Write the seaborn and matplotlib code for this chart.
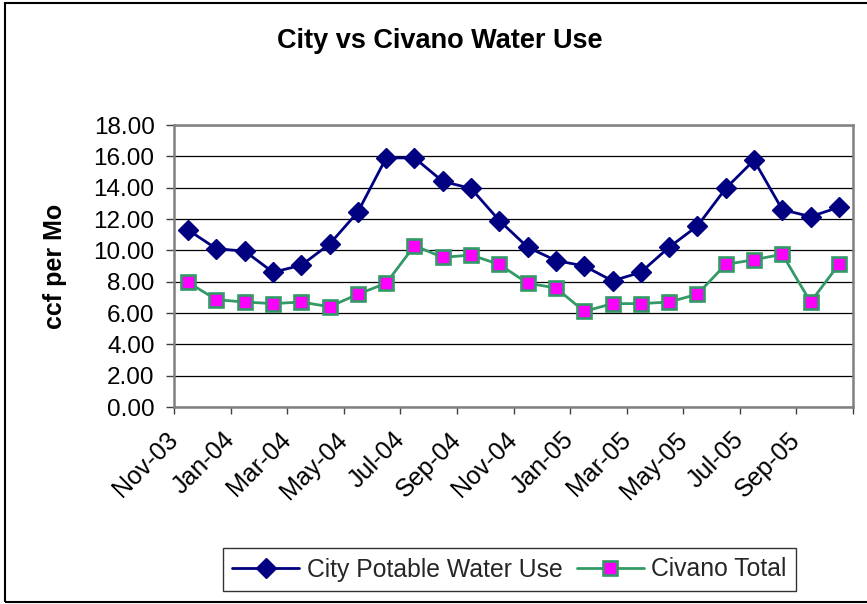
import matplotlib
matplotlib.use("Agg")
import numpy as np
import pandas as pd
import seaborn as sns
import matplotlib.pyplot as plt
from matplotlib.transforms import ScaledTranslation
from matplotlib.patches import Rectangle
from matplotlib.ticker import FixedLocator, FixedFormatter, NullFormatter, FuncFormatter

months = ["Nov-03", "Dec-03", "Jan-04", "Feb-04", "Mar-04", "Apr-04", "May-04", "Jun-04",
          "Jul-04", "Aug-04", "Sep-04", "Oct-04", "Nov-04", "Dec-04", "Jan-05", "Feb-05",
          "Mar-05", "Apr-05", "May-05", "Jun-05", "Jul-05", "Aug-05", "Sep-05", "Oct-05"]
city = [11.3, 10.1, 9.95, 8.6, 9.05, 10.4, 12.45, 15.9, 15.9, 14.4, 13.95, 11.9,
        10.2, 9.35, 9.0, 8.05, 8.6, 10.2, 11.55, 13.95, 15.75, 12.6, 12.15, 12.75]
civano = [7.95, 6.85, 6.7, 6.6, 6.7, 6.4, 7.2, 7.9, 10.3, 9.55, 9.7, 9.1,
          7.9, 7.6, 6.1, 6.6, 6.6, 6.7, 7.2, 9.1, 9.4, 9.75, 6.7, 9.1]
tick_labels = months[::2]
yticks = [0, 2, 4, 6, 8, 10, 12, 14, 16, 18]

sns.set_theme(style="white")
plt.rcParams["font.family"] = ["Liberation Sans", "DejaVu Sans"]

W, H = 867, 604
fig = plt.figure(figsize=(W / 100, H / 100), dpi=100)
fig.patch.set_facecolor("white")
ax = fig.add_axes([174 / W, (H - 407) / H, (853 - 174) / W, (407 - 125) / H])

df = pd.DataFrame({"idx": np.arange(len(months)), "month": months,
                   "city": city, "civano": civano})

sns.lineplot(data=df, x="idx", y="city", ax=ax, color="#000080", lw=2,
             marker="D", markersize=10.5, markeredgecolor="#000080",
             markerfacecolor="#000080", markeredgewidth=1,
             label="City Potable Water Use", zorder=4)
sns.lineplot(data=df, x="idx", y="civano", ax=ax, color="#339966", lw=2,
             marker="s", markersize=9.5, markeredgecolor="#339966",
             markerfacecolor="#FF00FF", markeredgewidth=1.9,
             label="Civano Total", zorder=3)

handles, labels = ax.get_legend_handles_labels()
if ax.get_legend() is not None:
    ax.get_legend().remove()

ax.set_xlim(-0.5, len(months) - 0.5)
ax.set_ylim(0, 18)
ax.set_yticks(yticks)
ax.yaxis.set_major_formatter(FuncFormatter(lambda v, p: f"{v:.2f}"))
ax.tick_params(axis="y", which="major", direction="out", length=6, width=1,
               color="#404040", labelsize=17.5, pad=8, labelcolor="black", left=True)

# x axis: ticks between categories every two, labels at category centres
ax.xaxis.set_major_locator(FixedLocator(np.arange(-0.5, len(months), 2)))
ax.xaxis.set_major_formatter(NullFormatter())
ax.xaxis.set_minor_locator(FixedLocator(np.arange(0, len(months), 2)))
ax.xaxis.set_minor_formatter(FixedFormatter(tick_labels))
ax.tick_params(axis="x", which="major", direction="out", length=5, width=1,
               color="#404040", bottom=True)
ax.tick_params(axis="x", which="minor", length=0, labelsize=18, pad=21,
               labelcolor="black", bottom=True)
off = ScaledTranslation(-14 / 100, 0, fig.dpi_scale_trans)
for lab in ax.xaxis.get_minorticklabels():
    lab.set_rotation(45)
    lab.set_ha("right")
    lab.set_va("center")
    lab.set_rotation_mode("anchor")
    lab.set_transform(lab.get_transform() + off)

ax.set_xlabel("")
ax.set_ylabel("ccf per Mo", fontsize=18, fontweight="bold", color="black")
ax.yaxis.set_label_coords((67 - 174) / (853 - 174), 0.5)

ax.grid(axis="y", color="black", lw=0.9)
ax.grid(axis="x", visible=False)
ax.set_axisbelow(True)
for s in ax.spines.values():
    s.set_visible(True)
    s.set_color("#808080")
    s.set_linewidth(1.8)

fig.text(439.5 / W, (H - 48.3) / H, "City vs Civano Water Use", ha="center",
         va="baseline", fontsize=19.5, fontweight="bold", color="black")

leg = fig.legend(handles, labels, loc="center", bbox_to_anchor=(509.5 / W, 34.5 / H),
                 ncol=2, fontsize=17.8, frameon=True, fancybox=False, shadow=False,
                 edgecolor="black", handlelength=2.7, handletextpad=0.3,
                 columnspacing=0.6, borderpad=0.38, borderaxespad=0)
leg.get_frame().set_linewidth(1.0)

fig.patches.append(Rectangle((5 / W, (H - 601.7) / H), 1.0, (601.7 - 3.3) / H,
                             transform=fig.transFigure, fill=False,
                             edgecolor="black", lw=1.5, clip_on=False))

fig.savefig("out.png", dpi=100)
